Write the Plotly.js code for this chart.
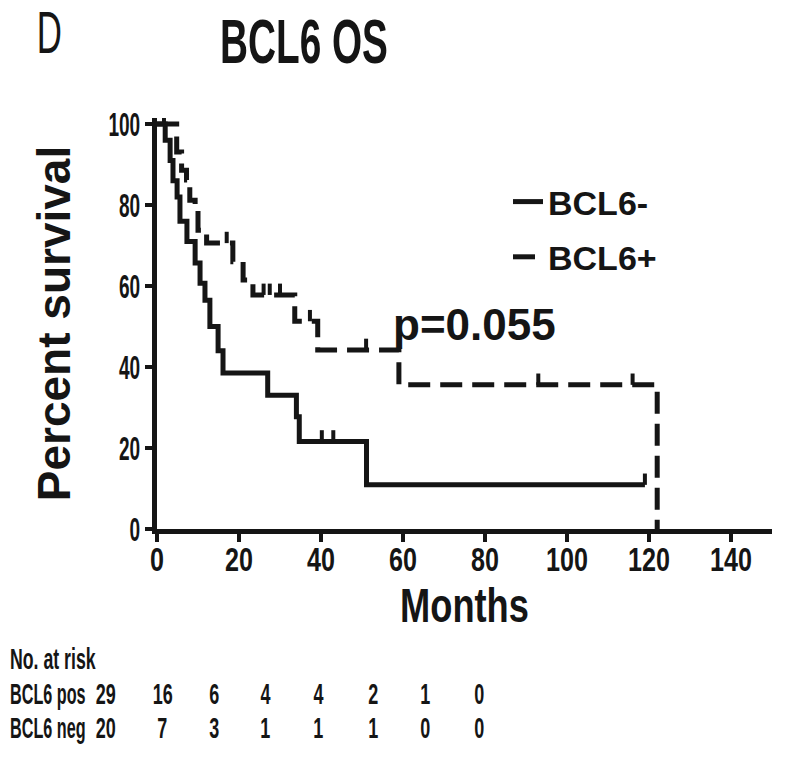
<!DOCTYPE html>
<html><head><meta charset="utf-8">
<script src="https://cdn.plot.ly/plotly-3.0.1.min.js"></script>
<style>html,body{margin:0;padding:0;background:#fff}#chart{width:800px;height:757px}</style>
</head><body><div id="chart"></div>
<script>
// ---- data ----
const negTimes = [0, 2, 3.2, 3.9, 4.9, 5.6, 7.3, 9.3, 10.5, 11.7, 12.9, 14.9, 16.1, 27, 34, 34.7, 51.1, 119];
const negSurv  = [100, 96, 91, 86, 82, 76, 71, 65.7, 60.7, 56.5, 50, 44, 38.5, 33, 27.7, 21.6, 10.9, 10.9];
const negCensorT = [40.2, 43, 119];
const negCensorS = [21.6, 21.6, 10.9];

const posTimes = [0, 4.8, 6.0, 7.2, 8.0, 9.3, 10.0, 12.1, 18.5, 21, 23.4, 33.6, 39.2, 59, 122, 122];
const posSurv  = [100, 93.1, 88.6, 86.2, 81.2, 78.8, 73.8, 70.6, 66, 61.5, 57.8, 51.3, 44.2, 35.6, 35.6, 0];
const posCensorT = [1.7, 17, 26, 27.5, 30, 37.3, 51, 93, 116];
const posCensorS = [100, 70.6, 57.8, 57.8, 57.8, 51.3, 44.2, 35.6, 35.6];

const riskLabels = ["BCL6 pos", "BCL6 neg"];
const riskPos = [29, 16, 6, 4, 4, 2, 1, 0];
const riskNeg = [20, 7, 3, 1, 1, 1, 0, 0];
const xTicks = [0, 20, 40, 60, 80, 100, 120, 140];
const yTicks = [0, 20, 40, 60, 80, 100];
const pText = "p=0.055";

// ---- layout geometry ----
const W = 800, H = 757;
const M = {l: 157, r: 28, t: 118, b: 228};
const PW = W - M.l - M.r, PH = H - M.t - M.b;
const px = x => (x - M.l) / PW;          // pixel -> paper x
const py = y => (H - M.b - y) / PH;      // pixel -> paper y
const INK = '#151515';
const FONT = 'Liberation Sans, Arial, sans-serif';

const tickH = (arr) => arr.map(() => 2.8);
const zeros = (arr) => arr.map(() => 0);

const traces = [
  {x: negTimes, y: negSurv, mode: 'lines', line: {shape: 'hv', color: INK, width: 5}, name: 'BCL6-', legendgroup: 'a'},
  {x: posTimes, y: posSurv, mode: 'lines', line: {shape: 'hv', color: INK, width: 5, dash: '22px,10px'}, name: 'BCL6+', legendgroup: 'b'},
  {x: negCensorT, y: negCensorS, mode: 'markers', marker: {size: 1, opacity: 0}, showlegend: false,
   error_y: {type: 'data', symmetric: false, array: tickH(negCensorT), arrayminus: zeros(negCensorT), width: 0, thickness: 4, color: INK}},
  {x: posCensorT, y: posCensorS, mode: 'markers', marker: {size: 1, opacity: 0}, showlegend: false,
   error_y: {type: 'data', symmetric: false, array: tickH(posCensorT), arrayminus: zeros(posCensorT), width: 0, thickness: 4, color: INK}}
];

// annotations + how condensed each one is drawn (the reference uses a condensed face)
const annotations = [];
const annSq = [];
function ann(text, x, y, xanchor, font, sq, anchor) {
  annotations.push({text: text, xref: 'paper', yref: 'paper', x: px(x), y: py(y), xanchor: xanchor, yanchor: 'middle',
    showarrow: false, font: font});
  annSq.push(sq ? {s: sq, anchor: anchor} : null);
}
ann('D', 49, 33, 'center', {family: FONT, size: 59, color: INK}, 0.59, 'center');
ann(pText, 474, 324, 'center', {family: FONT, size: 44, color: INK, weight: 'bold'}, null);
const tf = {family: FONT, size: 30, color: INK, weight: 'bold'};
ann('No. at risk', 8, 658, 'left', tf, 0.59, 'left');
const rowY = [693, 727];
const colX = [105, 162, 214, 265, 318, 373, 425, 479];
[riskPos, riskNeg].forEach((row, r) => {
  ann(riskLabels[r], 8, rowY[r], 'left', tf, 0.54, 'left');
  row.forEach((v, i) => ann(String(v), colX[i], rowY[r], 'center', tf, 0.6, 'center'));
});

const layout = {
  width: W, height: H,
  margin: M,
  paper_bgcolor: '#fff', plot_bgcolor: '#fff',
  title: {text: 'BCL6 OS', x: 304 / W, xanchor: 'center', y: 1 - 41 / H, yanchor: 'middle', xref: 'container', yref: 'container',
    font: {family: FONT, size: 63, color: INK, weight: 'bold'}},
  xaxis: {range: [0, 150], tickvals: xTicks, ticktext: xTicks.map(String), showgrid: false, zeroline: false,
    showline: true, linewidth: 5, linecolor: INK, ticks: 'outside', ticklen: 8, tickwidth: 4, tickcolor: INK,
    ticklabelstandoff: -12,
    tickfont: {family: FONT, size: 34, color: INK, weight: 'bold'},
    title: {text: 'Months', font: {family: FONT, size: 49, color: INK, weight: 'bold'}, standoff: 0}},
  yaxis: {range: [0, 101.5], tickvals: yTicks, ticktext: yTicks.map(String), showgrid: false, zeroline: false,
    showline: true, linewidth: 5, linecolor: INK, ticks: 'outside', ticklen: 7, tickwidth: 4, tickcolor: INK,
    ticklabelstandoff: -2,
    tickfont: {family: FONT, size: 34, color: INK, weight: 'bold'},
    title: {text: 'Percent survival', font: {family: FONT, size: 46, color: INK, weight: 'bold'}, standoff: 0}},
  legend: {x: px(508), y: py(173), xanchor: 'left', yanchor: 'top', bgcolor: 'rgba(0,0,0,0)',
    font: {family: FONT, size: 34, color: INK, weight: 'bold'}, itemwidth: 30, tracegroupgap: 8, traceorder: 'grouped'},
  annotations: annotations,
  showlegend: true
};

// condense a text element horizontally (in screen space) around an anchor
function squeeze(el, s, anchor) {
  const svg = el.ownerSVGElement;
  const r = el.getBoundingClientRect();
  const ax = anchor === 'left' ? r.left : anchor === 'right' ? r.right : (r.left + r.right) / 2;
  const S = svg.createSVGMatrix().translate(ax, 0).scaleNonUniform(s, 1).translate(-ax, 0);
  const P = el.parentNode.getScreenCTM();
  let T = svg.createSVGMatrix();
  const tl = el.transform.baseVal;
  if (tl.numberOfItems) T = tl.consolidate().matrix;
  const m = P.inverse().multiply(S).multiply(P).multiply(T);
  el.setAttribute('transform', 'matrix(' + [m.a, m.b, m.c, m.d, m.e, m.f].join(',') + ')');
}

Plotly.newPlot('chart', traces, layout, {staticPlot: true}).then(gd => {
  gd.querySelectorAll('.gtitle').forEach(el => squeeze(el, 0.615, 'center'));
  gd.querySelectorAll('.xtick text').forEach(el => squeeze(el, 0.74, 'center'));
  gd.querySelectorAll('.ytick text').forEach(el => squeeze(el, 0.56, 'right'));
  gd.querySelectorAll('.xtitle').forEach(el => squeeze(el, 0.74, 'center'));
  gd.querySelectorAll('.annotation').forEach(g => {
    const i = +g.getAttribute('data-index');
    const spec = annSq[i];
    if (!spec) return;
    const t = g.querySelector('text');
    if (t) squeeze(t, spec.s, spec.anchor);
  });
});
</script>
</body></html>
